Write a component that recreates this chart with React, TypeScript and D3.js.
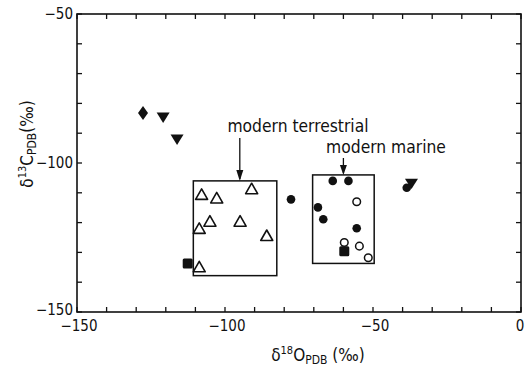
import React from 'react';
import * as d3 from 'd3';

// x = δ18O, y = δ13C (‰ PDB)
const diamonds: [number, number][] = [[-127.7, -83.2]];
const downTriangles: [number, number][] = [[-120.9, -84.6], [-116.2, -92], [-37, -106.8]];
const openTriangles: [number, number][] = [
  [-107.9, -110.7], [-102.8, -111.9], [-91.0, -108.8], [-105.1, -119.7],
  [-108.7, -122.1], [-94.9, -119.7], [-85.9, -124.5], [-108.7, -135],
];
const filledSquares: [number, number][] = [[-112.6, -133.7], [-59.7, -129.6]];
const filledCircles: [number, number][] = [
  [-77.7, -112.2], [-63.6, -106], [-58.3, -106], [-68.6, -114.9],
  [-66.8, -118.9], [-55.5, -121.9], [-38.6, -108.3],
];
const openCircles: [number, number][] = [
  [-55.5, -113], [-59.7, -126.7], [-54.6, -127.9], [-51.6, -131.8],
];
// [x0, x1, y0, y1]
const boxes: [number, number, number, number][] = [
  [-110.7, -82.5, -106, -137.8],
  [-70.4, -49.6, -104, -133.7],
];
const xTickLabels = [-150, -100, -50, 0];
const yTickLabels = [-50, -100, -150];

const font = "'DejaVu Sans Condensed', 'DejaVu Sans', sans-serif";

export default function App() {
  const margin = { left: 77, top: 14, right: 521, bottom: 312 };
  const x = d3.scaleLinear().domain([-150, 0]).range([margin.left, margin.right]);
  const y = d3.scaleLinear().domain([-50, -150]).range([margin.top, margin.bottom]);
  const ink = '#111';
  const tickLen = 5;
  const minor = d3.range(-150, 1, 10);
  const minorY = d3.range(-150, -49, 10);

  const tri = (cx: number, cy: number, up: boolean, s = 7) =>
    up
      ? `M${cx},${cy - s} L${cx + s},${cy + s * 0.75} L${cx - s},${cy + s * 0.75} Z`
      : `M${cx - s},${cy - s * 0.7} L${cx + s},${cy - s * 0.7} L${cx},${cy + s * 0.9} Z`;

  return (
    <svg width={525} height={371} style={{ position: 'absolute', left: 0, top: 0, background: '#fff' }}>
      <rect x={0} y={0} width={525} height={371} fill="#fff" />
      {/* frame */}
      <rect x={margin.left} y={margin.top} width={margin.right - margin.left} height={margin.bottom - margin.top}
        fill="none" stroke={ink} strokeWidth={1.6} />
      {minor.map(t => (
        <g key={'xt' + t}>
          <line x1={x(t)} x2={x(t)} y1={margin.bottom} y2={margin.bottom - tickLen} stroke={ink} strokeWidth={1.3} />
          <line x1={x(t)} x2={x(t)} y1={margin.top} y2={margin.top + tickLen} stroke={ink} strokeWidth={1.3} />
        </g>
      ))}
      {minorY.map(t => (
        <g key={'yt' + t}>
          <line x1={margin.left} x2={margin.left + tickLen} y1={y(t)} y2={y(t)} stroke={ink} strokeWidth={1.3} />
          <line x1={margin.right} x2={margin.right - tickLen} y1={y(t)} y2={y(t)} stroke={ink} strokeWidth={1.3} />
        </g>
      ))}
      {xTickLabels.map(t => (
        <text key={'xl' + t} x={t === 0 ? x(t) - 1 : x(t) + 2} y={margin.bottom + 19} textAnchor="middle" fontFamily={font} fontSize={15} fill={ink}>
          {t === 0 ? '0' : `\u2212${Math.abs(t)}`}
        </text>
      ))}
      {yTickLabels.map(t => (
        <text key={'yl' + t} x={margin.left - 4} y={y(t) + (t === -150 ? 3 : 5)} textAnchor="end" fontFamily={font} fontSize={15} fill={ink}>
          {`\u2212${Math.abs(t)}`}
        </text>
      ))}
      {/* axis titles */}
      <text x={318} y={361} textAnchor="middle" fontFamily={font} fontSize={17} fill={ink}>
        δ<tspan fontSize={11} dy={-7}>18</tspan><tspan dy={7}>O</tspan>
        <tspan fontSize={12} dy={3}>PDB</tspan><tspan dy={-3}> (‰)</tspan>
      </text>
      <text transform={`translate(33,144) rotate(-90)`} textAnchor="middle"
        fontFamily={font} fontSize={17} fill={ink}>
        δ<tspan fontSize={11} dy={-7}>13</tspan><tspan dy={7}>C</tspan>
        <tspan fontSize={12} dy={3}>PDB</tspan><tspan dy={-3}>(‰)</tspan>
      </text>
      {/* boxes */}
      {boxes.map((b, i) => (
        <rect key={'b' + i} x={x(b[0])} y={y(b[2])} width={x(b[1]) - x(b[0])} height={y(b[3]) - y(b[2])}
          fill="none" stroke={ink} strokeWidth={1.5} />
      ))}
      {/* annotations */}
      <text x={298} y={132} textAnchor="middle" fontFamily={font} fontSize={17.3} fill={ink}>modern terrestrial</text>
      <line x1={x(-95)} x2={x(-95)} y1={138} y2={y(-106) - 2} stroke={ink} strokeWidth={1.3} />
      <path d={`M${x(-95) - 3.5},${y(-106) - 11} L${x(-95) + 3.5},${y(-106) - 11} L${x(-95)},${y(-106)} Z`} fill={ink} />
      <text x={386} y={153} textAnchor="middle" fontFamily={font} fontSize={17.3} fill={ink}>modern marine</text>
      <line x1={x(-60)} x2={x(-60)} y1={158} y2={y(-104) - 2} stroke={ink} strokeWidth={1.3} />
      <path d={`M${x(-60) - 3.5},${y(-104) - 10} L${x(-60) + 3.5},${y(-104) - 10} L${x(-60)},${y(-104)} Z`} fill={ink} />
      {/* markers */}
      {diamonds.map((d, i) => (
        <path key={'d' + i} d={`M${x(d[0])},${y(d[1]) - 7} L${x(d[0]) + 5},${y(d[1])} L${x(d[0])},${y(d[1]) + 7} L${x(d[0]) - 5},${y(d[1])} Z`} fill={ink} />
      ))}
      {downTriangles.map((d, i) => (
        <path key={'dt' + i} d={tri(x(d[0]), y(d[1]), false, 6.5)} fill={ink} />
      ))}
      {openTriangles.map((d, i) => (
        <path key={'ot' + i} d={tri(x(d[0]), y(d[1]), true, 6)} fill="#fff" stroke={ink} strokeWidth={1.6} strokeLinejoin="round" />
      ))}
      {filledSquares.map((d, i) => (
        <rect key={'s' + i} x={x(d[0]) - 5} y={y(d[1]) - 5} width={10} height={10} rx={1.5} fill={ink} />
      ))}
      {filledCircles.map((d, i) => (
        <circle key={'fc' + i} cx={x(d[0])} cy={y(d[1])} r={4.3} fill={ink} />
      ))}
      {openCircles.map((d, i) => (
        <circle key={'oc' + i} cx={x(d[0])} cy={y(d[1])} r={3.8} fill="#fff" stroke={ink} strokeWidth={1.5} />
      ))}
    </svg>
  );
}
